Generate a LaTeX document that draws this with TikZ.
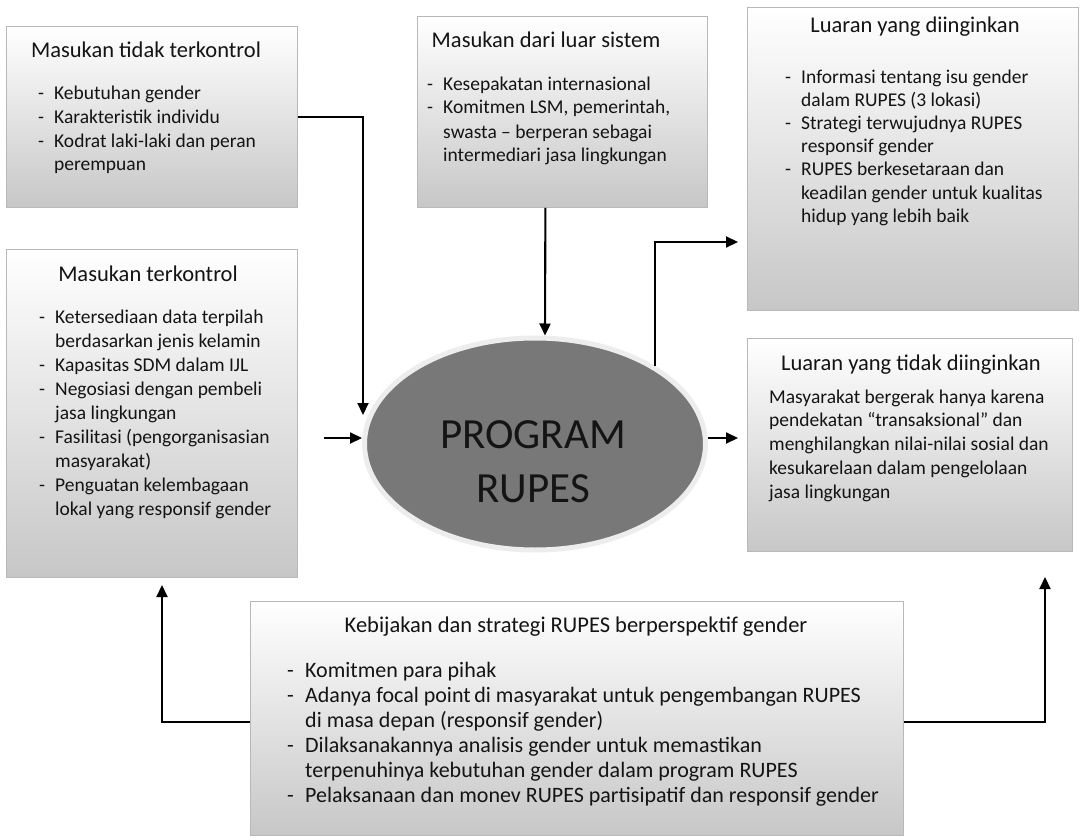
\documentclass[tikz,border=0pt]{standalone}
\usepackage{fontspec}
\setmainfont{Carlito}
\usetikzlibrary{arrows.meta, shapes.geometric}

\newlength{\dashw}
\setlength{\dashw}{16pt}
\newcommand{\dsh}{\makebox[\dashw][l]{-}}
\newcommand{\ind}{\hspace*{\dashw}}

\begin{document}
\begin{tikzpicture}[x=1pt, y=-1pt, >={Triangle[length=12pt, width=11pt]},
    inner sep=0pt, every node/.style={text=black!92}]

  \tikzstyle{box}=[draw=black!28, line width=0.8pt, top color=white,
  bottom color=black!22, anchor=north west]
  \tikzstyle{head}=[font=\fontsize{22.5}{27}\selectfont, anchor=base]
  \tikzstyle{items}=[font=\fontsize{19.5}{23.6}\selectfont, align=left,
  anchor=base west]
  \tikzstyle{flow}=[->, line width=2.1pt, black]
  \tikzstyle{hv}=[to path={-| (\tikztotarget)}]
  \tikzstyle{vh}=[to path={|- (\tikztotarget)}]

  \useasboundingbox (0,0) rectangle (1082,840);
  \fill[white] (0,0) rectangle (1082,840);

  \node[box, minimum width=291pt, minimum height=181pt] (UNCTRL) at (6,26) {};
  \node[box, minimum width=291pt, minimum height=328pt] (CTRL) at (6,249) {};
  \node[box, minimum width=290pt, minimum height=191pt] (EXT) at (417,16) {};
  \node[box, minimum width=331pt, minimum height=303pt] (WANT) at (747,7) {};
  \node[box, minimum width=325pt, minimum height=213pt] (UNWANT) at (747,338) {};
  \node[box, minimum width=653pt, minimum height=234pt] (POLICY) at (250,601) {};

  \node[ellipse, minimum width=341pt, minimum height=212pt, fill=black!53,
  draw=black!7, line width=5pt] (PROG) at (535,444) {};
  \node[font=\fontsize{43}{54}\selectfont, align=center, anchor=base]
  (PROGTXT) at (533,502) {PROGRAM\\RUPES};

  \node[head] (UNCTRLH) at (146,58) {Masukan tidak terkontrol};
  \node[items] (UNCTRLL) at (38,170.8) {\dsh Kebutuhan gender\\
    \dsh Karakteristik individu\\ \dsh Kodrat laki-laki dan peran\\
    \ind perempuan};

  \node[head] (CTRLH) at (148,281) {Masukan terkontrol};
  \node[items, font=\fontsize{19.5}{24}\selectfont] (CTRLL) at (39,515)
  {\dsh Ketersediaan data terpilah\\ \ind berdasarkan jenis kelamin\\
    \dsh Kapasitas SDM dalam IJL\\ \dsh Negosiasi dengan pembeli\\
    \ind jasa lingkungan\\ \dsh Fasilitasi (pengorganisasian\\
    \ind masyarakat)\\ \dsh Penguatan kelembagaan\\
    \ind lokal yang responsif gender};

  \node[head] (EXTH) at (546,48) {Masukan dari luar sistem};
  \node[items, font=\fontsize{19.5}{24}\selectfont] (EXTL) at (427,162)
  {\dsh Kesepakatan internasional\\ \dsh Komitmen LSM, pemerintah,\\
    \ind swasta -- berperan sebagai\\ \ind intermediari jasa lingkungan};

  \node[head] (WANTH) at (915,33) {Luaran yang diinginkan};
  \node[items, font=\fontsize{19.5}{23.2}\selectfont] (WANTL) at (785,222.2)
  {\dsh Informasi tentang isu gender\\ \ind dalam RUPES (3 lokasi)\\
    \dsh Strategi terwujudnya RUPES\\ \ind responsif gender\\
    \dsh RUPES berkesetaraan dan\\ \ind keadilan gender untuk kualitas\\
    \ind hidup yang lebih baik};

  \node[head] (UNWANTH) at (911,370) {Luaran yang tidak diinginkan};
  \node[items, font=\fontsize{19.5}{23.8}\selectfont] (UNWANTL) at (769,498.2)
  {Masyarakat bergerak hanya karena\\ pendekatan “transaksional” dan\\
    menghilangkan nilai-nilai sosial dan\\ kesukarelaan dalam pengelolaan\\
    jasa lingkungan};

  \node[head] (POLICYH) at (576,632) {Kebijakan dan strategi RUPES berperspektif gender};
  \node[items, font=\fontsize{22}{25}\selectfont\setlength{\dashw}{18pt}]
  (POLICYL) at (287,802) {\dsh Komitmen para pihak\\
    \dsh Adanya focal point\,di masyarakat untuk pengembangan RUPES\\
    \ind di masa depan (responsif gender)\\
    \dsh Dilaksanakannya analisis gender untuk memastikan\\
    \ind terpenuhinya kebutuhan gender dalam program RUPES\\
    \dsh Pelaksanaan dan monev RUPES partisipatif dan responsif gender};

  \coordinate (INA) at (363,415);
  \coordinate (INB) at (324,438);
  \coordinate (OUTD) at (738,242);
  \coordinate (OUTE) at (738,438);
  \coordinate (FBL) at (162,585);
  \coordinate (FBR) at (1045,577);

  \path[flow]
  (UNCTRL.east) edge[hv] (INA)
  ([xshift=-17pt]EXT.south) edge ([xshift=10pt]PROG.north)
  (INB) edge (INB -| PROG.west)
  (PROG.east |- INB) edge (OUTE)
  (PROG.33) edge[vh] (OUTD)
  ([yshift=-4pt]POLICY.west) edge[hv] (FBL)
  ([yshift=-4pt]POLICY.east) edge[hv] (FBR);
\end{tikzpicture}
\end{document}
